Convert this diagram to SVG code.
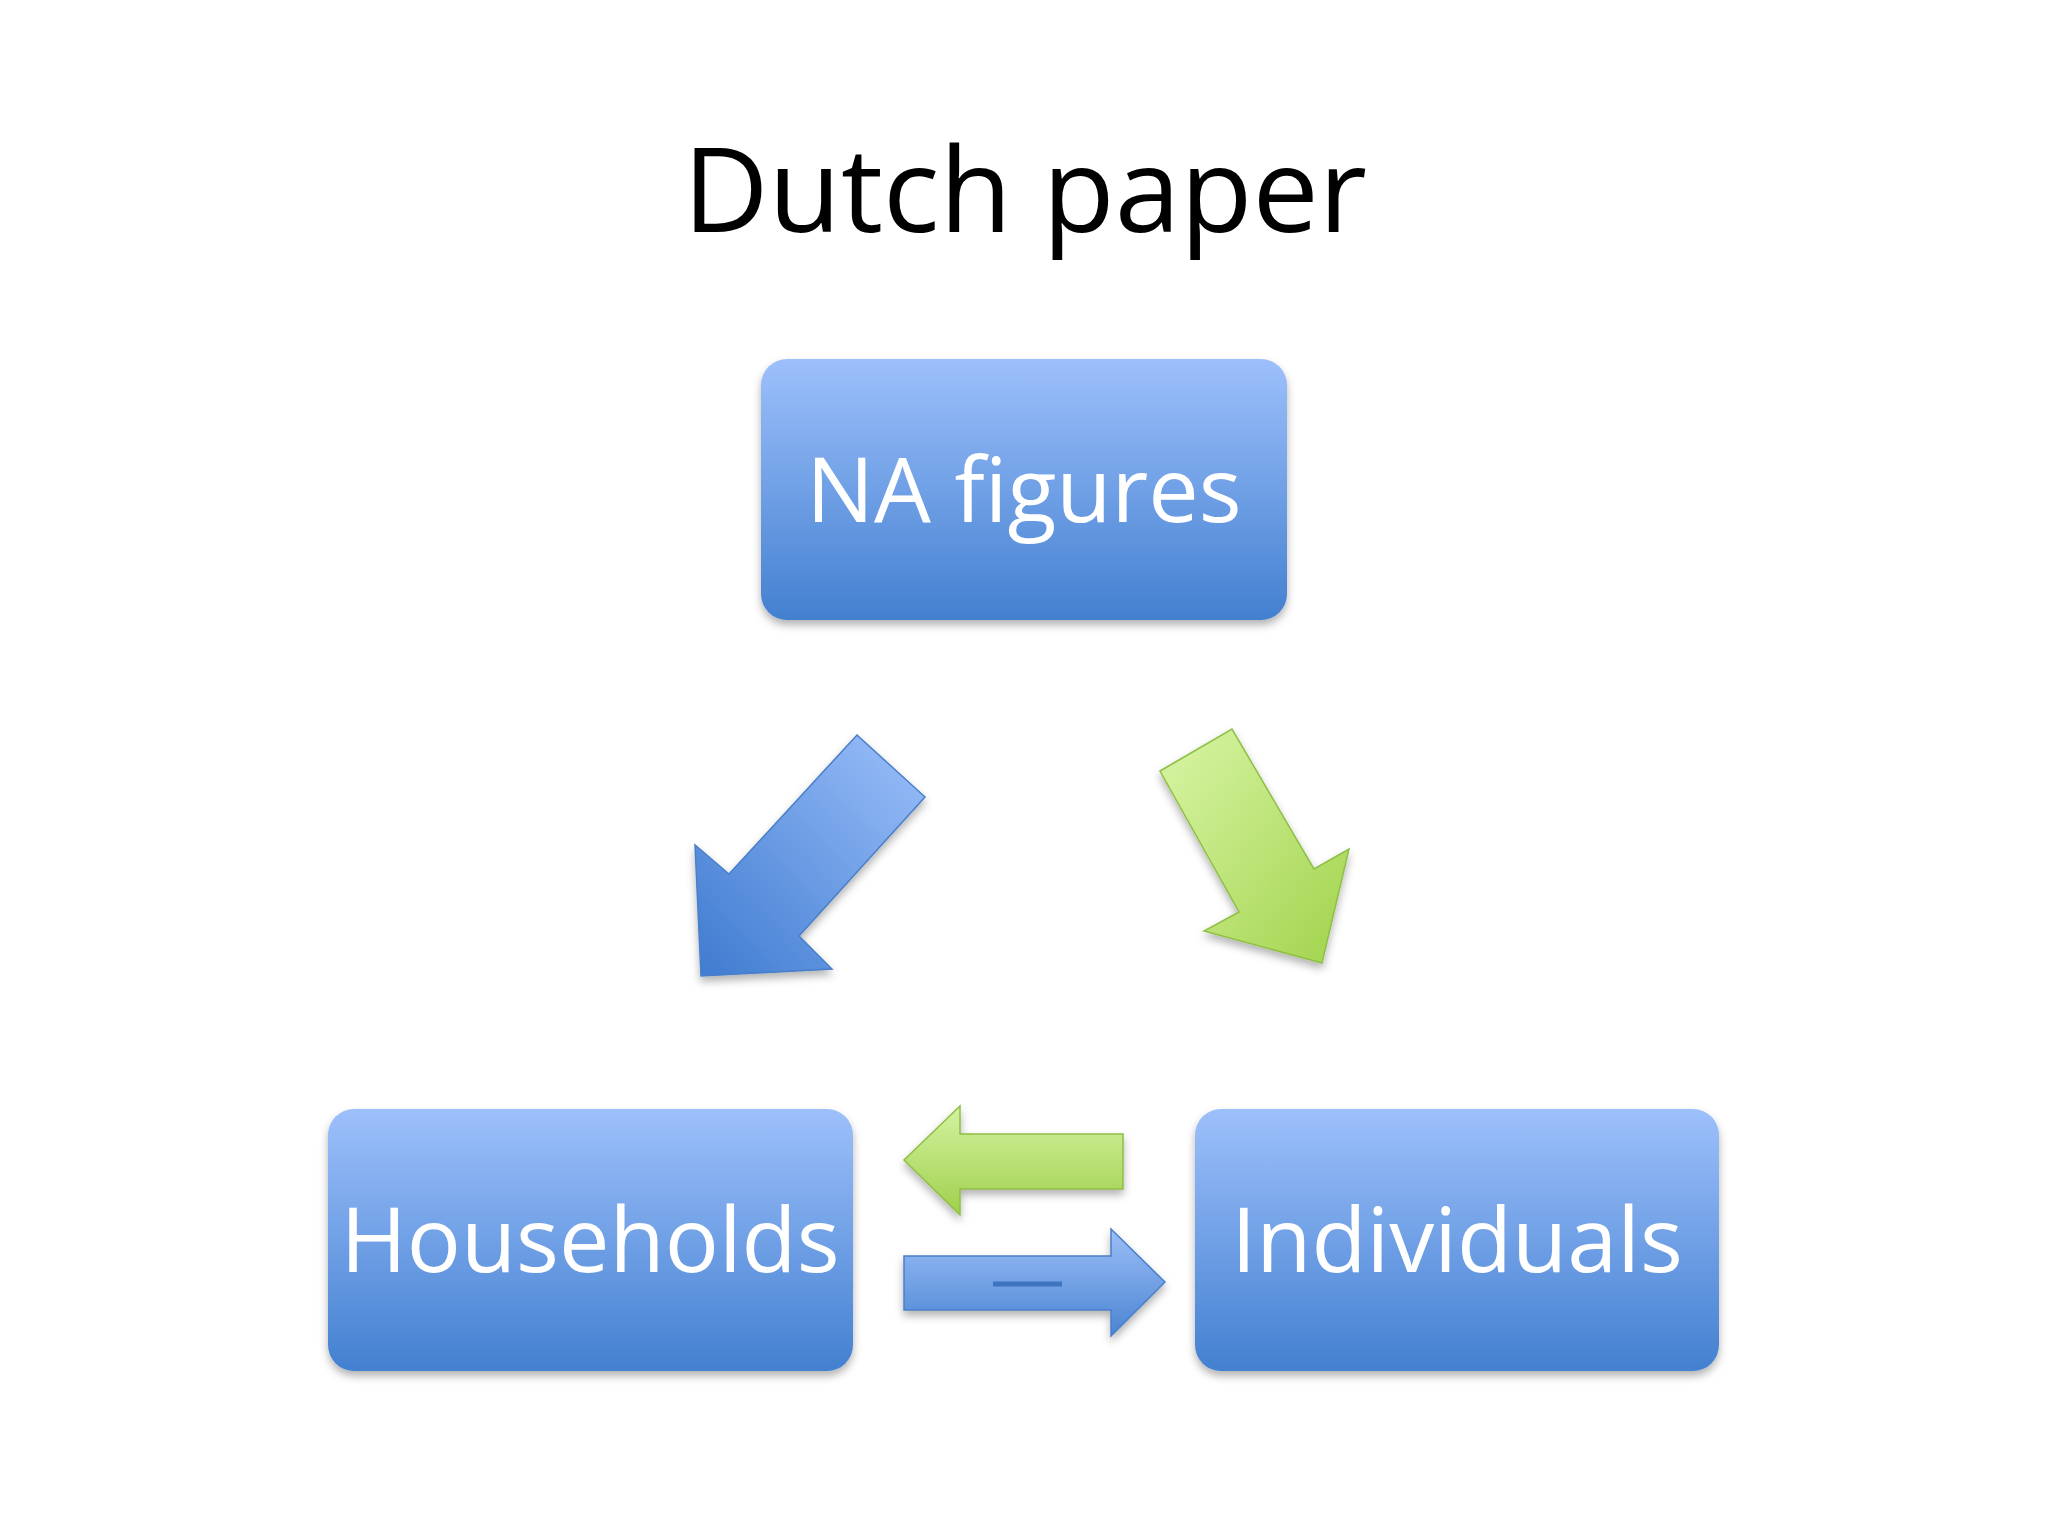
<svg xmlns="http://www.w3.org/2000/svg" width="2048" height="1536" viewBox="0 0 2048 1536">
<defs>
<linearGradient id="bg" x1="0" y1="0" x2="0" y2="1"><stop offset="0" stop-color="#9dc0fb"/><stop offset="1" stop-color="#4380d0"/></linearGradient>
<linearGradient id="ba" x1="1" y1="0" x2="0" y2="1"><stop offset="0" stop-color="#9cc0fa"/><stop offset="1" stop-color="#3f7bd0"/></linearGradient>
<linearGradient id="ga" x1="0" y1="0" x2="1" y2="1"><stop offset="0" stop-color="#d9f5a6"/><stop offset="1" stop-color="#a1d34c"/></linearGradient>
<linearGradient id="gh" x1="0" y1="0" x2="0" y2="1"><stop offset="0" stop-color="#d4f2a0"/><stop offset="1" stop-color="#9fd04c"/></linearGradient>
<linearGradient id="bh" x1="0" y1="0" x2="0" y2="1"><stop offset="0" stop-color="#9cbff8"/><stop offset="1" stop-color="#4a84d2"/></linearGradient>
<filter id="sh" x="-10%" y="-10%" width="120%" height="130%"><feDropShadow dx="0" dy="5" stdDeviation="4" flood-color="#000" flood-opacity="0.3"/></filter>
</defs>
<style>
.box{fill:url(#bg);filter:url(#sh)}
.lbl{font-family:"Open Sans","Liberation Sans",sans-serif;font-size:90px;fill:#fff;text-anchor:middle}
</style>
<rect width="2048" height="1536" fill="#fff"/>
<text x="1025" y="232" font-family="Open Sans, Liberation Sans, sans-serif" font-size="118" text-anchor="middle" fill="#000">Dutch paper</text>
<g id="na"><rect class="box" x="761" y="359" width="526" height="261" rx="26"/><text class="lbl" x="1024" y="522">NA figures</text></g>
<g id="households"><rect class="box" x="328" y="1109" width="525" height="262" rx="26"/><text class="lbl" x="590" y="1272">Households</text></g>
<g id="individuals"><rect class="box" x="1195" y="1109" width="524" height="262" rx="26"/><text class="lbl" x="1457" y="1272">Individuals</text></g>
<g id="connectors">
<polygon points="857,735 925,797 799,936 832,969 701,976 695,845 729,874" fill="url(#ba)" stroke="#4a7fc8" stroke-width="1.5" filter="url(#sh)"/>
<polygon points="1160,771 1232,729 1314,869 1349,849 1322,963 1204,931 1239,912" fill="url(#ga)" stroke="#8fbf45" stroke-width="1.5" filter="url(#sh)"/>
<polygon points="1123,1134 1123,1189 960,1189 960,1215 904,1160 960,1106 960,1134" fill="url(#gh)" stroke="#8fbf45" stroke-width="1.5" filter="url(#sh)"/>
<polygon points="904,1256 1111,1256 1111,1229 1165,1282 1111,1336 1111,1310 904,1310" fill="url(#bh)" stroke="#4a7fc8" stroke-width="1.5" filter="url(#sh)"/>
<line x1="993" y1="1284" x2="1062" y2="1284" stroke="#3f74c0" stroke-width="5"/>
</g>
</svg>
